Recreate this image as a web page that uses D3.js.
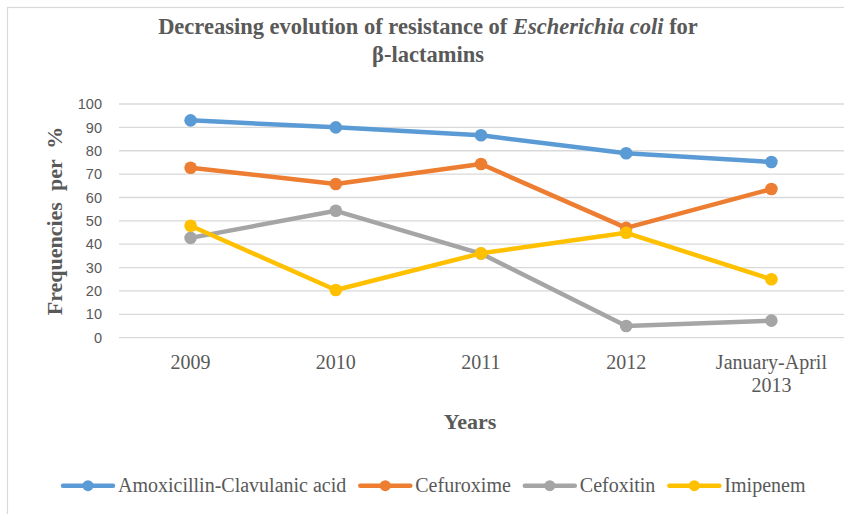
<!DOCTYPE html>
<html>
<head>
<meta charset="utf-8">
<script src="https://cdn.jsdelivr.net/npm/d3@7"></script>
<style>
  html, body { margin: 0; padding: 0; background: #fff; }
  svg { display: block; }
</style>
</head>
<body>
<svg id="chart" width="844" height="514"></svg>
<script>
// Resistance of E. coli to beta-lactams, % of isolates per period
const categories = ["2009", "2010", "2011", "2012", "January-April\n2013"];
const seriesNames = ["Amoxicillin-Clavulanic acid", "Cefuroxime", "Cefoxitin", "Imipenem"];
const amoxClav = [93, 90, 86.6, 78.9, 75.2];
const cefuroxime = [72.7, 65.8, 74.3, 47, 63.6];
const cefoxitin = [42.7, 54.3, 36, 5, 7.3];
const imipenem = [47.9, 20.4, 36.1, 44.9, 25];
const yTicks = [0, 10, 20, 30, 40, 50, 60, 70, 80, 90, 100];
const colors = ["#5B9BD5", "#ED7D31", "#A5A5A5", "#FFC000"];

const series = [amoxClav, cefuroxime, cefoxitin, imipenem].map((values, i) => ({
  name: seriesNames[i], values, color: colors[i]
}));

const textColor = "#595959";
const serif = "'Liberation Serif', 'Times New Roman', serif";
const sans = "'Liberation Sans', Arial, sans-serif";

const svg = d3.select("#chart");

// chart frame
svg.append("rect")
  .attr("x", 7.5).attr("y", 7.5)
  .attr("width", 900).attr("height", 508)
  .attr("fill", "#fff")
  .attr("stroke", "#D9D9D9").attr("stroke-width", 1.2);

const x = d3.scalePoint().domain(categories).range([118, 844]).padding(0.5);
const y = d3.scaleLinear().domain([0, 100]).range([337.7, 104]);

// horizontal gridlines
svg.append("g").selectAll("line").data(yTicks).join("line")
  .attr("x1", 119).attr("x2", 844)
  .attr("y1", d => y(d)).attr("y2", d => y(d))
  .attr("stroke", "#D9D9D9").attr("stroke-width", 1.3);

// y axis labels
const yAxis = d3.axisLeft(y).tickValues(yTicks).tickSize(0).tickPadding(0);
const gy = svg.append("g").attr("transform", "translate(102,0)").call(yAxis);
gy.select(".domain").remove();
gy.selectAll("text")
  .attr("fill", textColor)
  .style("font-family", sans)
  .style("font-size", "14.5px");

// x axis labels (multi-line)
const gx = svg.append("g");
categories.forEach(c => {
  const lines = c.split("\n");
  const t = gx.append("text")
    .attr("x", x(c)).attr("y", 369)
    .attr("text-anchor", "middle")
    .attr("fill", textColor)
    .style("font-family", serif)
    .style("font-size", "20px");
  lines.forEach((ln, i) => {
    t.append("tspan").attr("x", x(c)).attr("dy", i === 0 ? 0 : 23).text(ln);
  });
});

// series lines and markers
const line = d3.line()
  .x((d, i) => x(categories[i]))
  .y(d => y(d));

series.forEach(s => {
  const g = svg.append("g");
  g.append("path")
    .datum(s.values)
    .attr("d", line)
    .attr("fill", "none")
    .attr("stroke", s.color)
    .attr("stroke-width", 4.5)
    .attr("stroke-linejoin", "round")
    .attr("stroke-linecap", "round");
  g.selectAll("circle").data(s.values).join("circle")
    .attr("cx", (d, i) => x(categories[i]))
    .attr("cy", d => y(d))
    .attr("r", 6.3)
    .attr("fill", s.color);
});

// title
const title = svg.append("text")
  .attr("text-anchor", "middle")
  .attr("fill", textColor)
  .style("font-family", serif)
  .style("font-size", "22.5px")
  .style("font-weight", "bold");
const l1 = title.append("tspan").attr("x", 428).attr("y", 34);
l1.append("tspan").text("Decreasing evolution of resistance of ");
l1.append("tspan").style("font-style", "italic").text("Escherichia coli");
l1.append("tspan").text(" for");
title.append("tspan").attr("x", 428).attr("y", 62).text("\u03B2-lactamins");

// axis titles
svg.append("text")
  .attr("transform", "translate(62,221) rotate(-90)")
  .attr("text-anchor", "middle")
  .attr("fill", textColor)
  .style("font-family", serif)
  .style("font-size", "22px")
  .style("font-weight", "bold")
  .style("white-space", "pre")
  .attr("xml:space", "preserve")
  .text("Frequencies  per  %");

svg.append("text")
  .attr("x", 470).attr("y", 428.5)
  .attr("text-anchor", "middle")
  .attr("fill", textColor)
  .style("font-family", serif)
  .style("font-size", "22px")
  .style("font-weight", "bold")
  .text("Years");

// legend
const legend = svg.append("g");
let lx = 63;
const ly = 485.7;
series.forEach(s => {
  const item = legend.append("g");
  item.append("line")
    .attr("x1", lx).attr("x2", lx + 50)
    .attr("y1", ly).attr("y2", ly)
    .attr("stroke", s.color).attr("stroke-width", 4.5)
    .attr("stroke-linecap", "round");
  item.append("circle")
    .attr("cx", lx + 25).attr("cy", ly).attr("r", 5.5)
    .attr("fill", s.color);
  const t = item.append("text")
    .attr("x", lx + 55).attr("y", ly + 6.5)
    .attr("fill", textColor)
    .style("font-family", serif)
    .style("font-size", "20px")
    .text(s.name);
  lx += 55 + t.node().getComputedTextLength() + 14;
});
</script>
</body>
</html>
